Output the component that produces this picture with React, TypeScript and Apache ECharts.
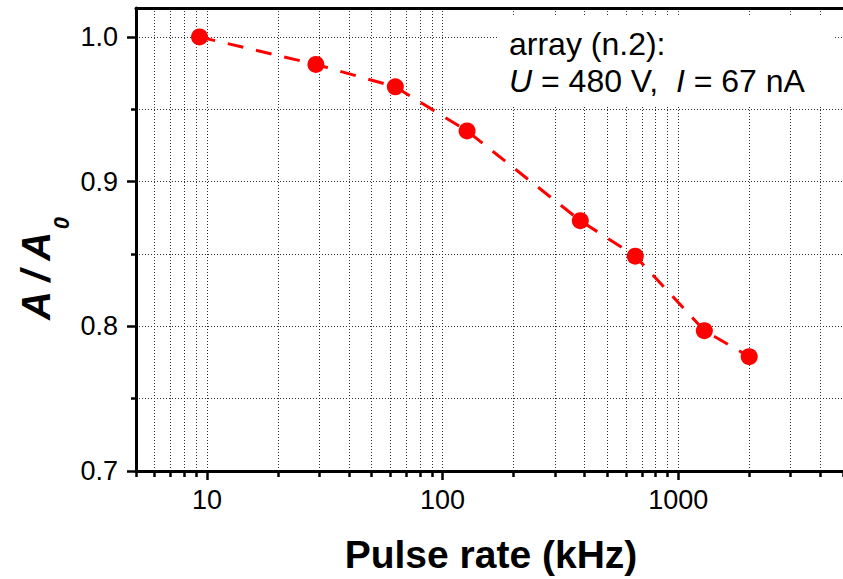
import React, { useEffect, useRef } from 'react';
import * as echarts from 'echarts';

const pulseRateKHz = [9.3, 29, 63, 127, 384, 657, 1290, 2000];
const amplitudeRatio = [1.0, 0.981, 0.9655, 0.935, 0.873, 0.8485, 0.797, 0.779];
const xMajorTicks = [10, 100, 1000];
const xMinorTicks = [5, 6, 7, 8, 9, 20, 30, 40, 50, 60, 70, 80, 90, 200, 300, 400, 500, 600, 700, 800, 900, 2000, 3000, 4000, 5000];
const yMajorTicks = [0.7, 0.8, 0.9, 1.0];
const yMinorTicks = [0.75, 0.85, 0.95];

const FONT = "'Liberation Sans', Arial, Helvetica, sans-serif";

export default function App() {
  const ref = useRef<HTMLDivElement>(null);

  useEffect(() => {
    if (!ref.current) return;
    const chart = echarts.init(ref.current, null, { renderer: 'svg' });
    const gridLine = { show: true, lineStyle: { color: '#333', width: 1, type: [1, 2] as any } };
    const xBase = { type: 'log' as const, logBase: 10, min: 5, max: 5000, gridIndex: 0 };
    const yBase = { type: 'value' as const, min: 0.7, max: 1.02, gridIndex: 0 };
    const data = pulseRateKHz.map((x, i) => [x, amplitudeRatio[i]]);

    chart.setOption({
      animation: false,
      grid: { left: 136, top: 8, right: -2, bottom: 108, containLabel: false },
      xAxis: [
        {
          ...xBase,
          position: 'bottom',
          axisLine: { show: true, onZero: false, lineStyle: { color: '#000', width: 3 } },
          axisTick: { show: true, inside: false, length: 9, customValues: xMajorTicks, lineStyle: { color: '#000', width: 2.5 } },
          axisLabel: { show: true, customValues: xMajorTicks, margin: 15, fontSize: 27, color: '#000', fontFamily: FONT, formatter: (v: number) => String(Math.round(v)) },
          splitLine: gridLine,
          minorTick: { show: false },
          minorSplitLine: { show: false },
        },
        {
          ...xBase,
          position: 'bottom',
          axisLine: { show: false },
          axisTick: { show: true, inside: false, length: 6, customValues: xMinorTicks, lineStyle: { color: '#000', width: 2.5 } },
          axisLabel: { show: false },
          splitLine: gridLine,
        },
        {
          ...xBase,
          position: 'top',
          axisLine: { show: true, onZero: false, lineStyle: { color: '#000', width: 3 } },
          axisTick: { show: false },
          axisLabel: { show: false },
          splitLine: { show: false },
        },
      ],
      yAxis: [
        {
          ...yBase,
          position: 'left',
          axisLine: { show: true, onZero: false, lineStyle: { color: '#000', width: 3 } },
          axisTick: { show: true, inside: false, length: 9, customValues: yMajorTicks, lineStyle: { color: '#000', width: 2.5 } },
          axisLabel: { show: true, customValues: yMajorTicks, margin: 18, fontSize: 27, color: '#000', fontFamily: FONT, formatter: (v: number) => v.toFixed(1) },
          splitLine: gridLine,
        },
        {
          ...yBase,
          position: 'left',
          axisLine: { show: false },
          axisTick: { show: true, inside: false, length: 5, customValues: yMinorTicks, lineStyle: { color: '#000', width: 2.5 } },
          axisLabel: { show: false },
          splitLine: { show: true, lineStyle: { color: '#333', width: 1, type: [1, 2] } },
        },
      ],
      series: [
        {
          type: 'line',
          xAxisIndex: 0,
          yAxisIndex: 0,
          data,
          showSymbol: true,
          symbol: 'circle',
          symbolSize: 17,
          itemStyle: { color: '#ff0000', borderWidth: 0 },
          lineStyle: { color: '#ff0000', width: 3, type: [16, 13] },
          z: 5,
        },
      ],
      graphic: [
        { type: 'rect', z: 100, shape: { x: 497, y: 16, width: 336, height: 90 }, style: { fill: '#fff' } },
        {
          type: 'text', z: 101, x: 509, y: 44,
          style: { text: 'array (n.2):', fontSize: 32, fontFamily: FONT, fill: '#000', align: 'left', verticalAlign: 'middle' },
        },
        {
          type: 'text', z: 101, x: 509, y: 81,
          style: {
            text: '{i|U} = 480 V,  {i|I} = 67 nA', fontSize: 32, fontFamily: FONT, fill: '#000', align: 'left', verticalAlign: 'middle',
            rich: { i: { fontStyle: 'italic', fontSize: 32, fontFamily: FONT, fill: '#000' } },
          },
        },
        {
          type: 'text', z: 101, x: 491, y: 554,
          style: { text: 'Pulse rate (kHz)', fontSize: 39, fontWeight: 'bold', fontFamily: FONT, fill: '#000', align: 'center', verticalAlign: 'middle' },
        },
        {
          type: 'text', z: 101, x: 36, y: 276, rotation: Math.PI / 2,
          style: { text: 'A / A', fontSize: 40, fontWeight: 'bold', fontStyle: 'italic', fontFamily: FONT, fill: '#000', align: 'center', verticalAlign: 'middle' },
        },
        {
          type: 'text', z: 101, x: 61, y: 223, rotation: Math.PI / 2,
          style: { text: '0', fontSize: 22, fontWeight: 'bold', fontStyle: 'italic', fontFamily: FONT, fill: '#000', align: 'center', verticalAlign: 'middle' },
        },
      ],
    });
    return () => chart.dispose();
  }, []);

  return <div ref={ref} style={{ position: 'fixed', left: 0, top: 0, width: 843, height: 579, background: '#fff' }} />;
}
